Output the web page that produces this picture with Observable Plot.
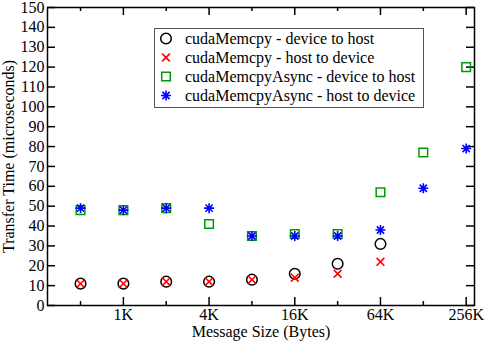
<!DOCTYPE html>
<html><head><meta charset="utf-8">
<script src="https://cdn.jsdelivr.net/npm/d3@7"></script>
<script src="https://cdn.jsdelivr.net/npm/@observablehq/plot@0.6"></script>
<style>
body{margin:0;background:#fff;}
#chart{position:relative;width:485px;height:341px;font-family:"Liberation Serif",serif;}
#legend{position:absolute;left:154px;top:28px;width:270px;height:80px;box-sizing:border-box;border:1px solid #555;background:#fff;}
.row{height:19px;font-size:16px;white-space:nowrap;display:flex;align-items:center;color:#000;}
.row svg{width:22px;height:19px;margin-right:8px;flex:none;overflow:visible}
</style></head><body><div id="chart"><div id="legend"></div></div>
<script>
// ---- data ----
const sizes = [512, 1024, 2048, 4096, 8192, 16384, 32768, 65536, 131072, 262144];
const memcpyD2H = [11, 11, 12, 12, 13, 16, 21, 31];
const memcpyH2D = [11, 11, 12, 12, 13, 14, 16, 22];
const asyncD2H = [48, 48, 49, 41, 35, 36, 36, 57, 77, 120];
const asyncH2D = [49, 48, 49, 49, 35, 35, 35, 38, 59, 79];
const seriesNames = [
  "cudaMemcpy - device to host",
  "cudaMemcpy - host to device",
  "cudaMemcpyAsync - device to host",
  "cudaMemcpyAsync - host to device"
];
const xMajor = [1024, 4096, 16384, 65536, 262144];
const xMajorLabels = ["1K", "4K", "16K", "64K", "256K"];
const xMinor = [512, 2048, 8192, 32768, 131072];
const yTicks = [0, 10, 20, 30, 40, 50, 60, 70, 80, 90, 100, 110, 120, 130, 140, 150];
const xTitle = "Message Size (Bytes)";
const yTitle = "Transfer Time (microseconds)";

// ---- styling ----
const W = 485, H = 341, mL = 47, mR = 11, mT = 7, mB = 36;
const plotW = W - mL - mR, plotH = H - mT - mB;
const colors = ["#000000", "#ff0000", "#009900", "#0000ff"];

function drawCircle(ctx, r) { ctx.moveTo(r, 0); ctx.arc(0, 0, r, 0, 2 * Math.PI); }
function drawTimes(ctx, r) { ctx.moveTo(-r, -r); ctx.lineTo(r, r); ctx.moveTo(-r, r); ctx.lineTo(r, -r); }
function drawSquare(ctx, r) { ctx.moveTo(-r, -r); ctx.lineTo(r, -r); ctx.lineTo(r, r); ctx.lineTo(-r, r); ctx.closePath(); }
function drawStar(ctx, r) {
  const d = r * 0.72;
  ctx.moveTo(0, -r); ctx.lineTo(0, r);
  ctx.moveTo(-r, 0); ctx.lineTo(r, 0);
  ctx.moveTo(-d, -d); ctx.lineTo(d, d);
  ctx.moveTo(-d, d); ctx.lineTo(d, -d);
}
const drawers = [drawCircle, drawTimes, drawSquare, drawStar];
const radii = [5.3, 3.9, 4.3, 5];
const widths = [1.5, 1.6, 1.5, 1.6];
const symbols = drawers.map(f => ({draw(ctx, size) { f(ctx, Math.sqrt(size / Math.PI)); }}));

const seriesValues = [memcpyD2H, memcpyH2D, asyncD2H, asyncH2D];
const tables = seriesValues.map(vals => vals.map((v, i) => ({size: sizes[i], time: v})));

const dotMarks = tables.map((t, k) => Plot.dot(t, {
  x: "size", y: "time", symbol: symbols[k], r: radii[k],
  fill: "none", stroke: colors[k], strokeWidth: widths[k]
}));

const chart = Plot.plot({
  width: W, height: H,
  marginLeft: mL, marginRight: mR, marginTop: mT, marginBottom: mB,
  style: {fontFamily: "'Liberation Serif', serif", fontSize: "16px", background: "white", color: "black"},
  x: {type: "log", base: 2, domain: [300, 300000], axis: null},
  y: {domain: [0, 150], axis: null},
  marks: [
    // ticks (inward)
    Plot.ruleY(yTicks, {y: d => d, insetRight: plotW - 8, strokeWidth: 1.5}),
    Plot.ruleY(yTicks, {y: d => d, insetLeft: plotW - 8, strokeWidth: 1.5}),
    Plot.ruleX(xMajor, {x: d => d, insetTop: plotH - 8, strokeWidth: 1.5}),
    Plot.ruleX(xMajor, {x: d => d, insetBottom: plotH - 8, strokeWidth: 1.5}),
    Plot.ruleX(xMinor, {x: d => d, insetTop: plotH - 4, strokeWidth: 1.5}),
    Plot.ruleX(xMinor, {x: d => d, insetBottom: plotH - 4, strokeWidth: 1.5}),
    Plot.frame({stroke: "black", strokeWidth: 1.5}),
    // tick labels
    Plot.axisY(yTicks, {anchor: "left", tickSize: 0, tickPadding: 3, label: null, fontSize: 16}),
    Plot.axisX(xMajor, {anchor: "bottom", tickSize: 0, tickPadding: 3, label: null, fontSize: 16,
      tickFormat: d => xMajorLabels[xMajor.indexOf(d)]}),
    // axis titles
    Plot.text([xTitle], {text: d => d, frameAnchor: "bottom", dy: 31, lineAnchor: "bottom", fontSize: 16}),
    Plot.text([yTitle], {text: d => d, frameAnchor: "left", rotate: -90, dx: -39, lineAnchor: "middle", textAnchor: "middle", fontSize: 16}),
    ...dotMarks
  ]
});
const container = document.getElementById("chart");
container.insertBefore(chart, container.firstChild);

// legend
const legend = d3.select("#legend");
seriesNames.forEach((name, k) => {
  const row = legend.append("div").attr("class", "row");
  const svg = row.append("svg").attr("viewBox", "-11 -9.5 22 19");
  const p = d3.path();
  drawers[k](p, radii[k]);
  svg.append("path").attr("d", p.toString()).attr("fill", "none")
    .attr("stroke", colors[k]).attr("stroke-width", widths[k]);
  row.append("span").text(name);
});
</script>
</body></html>
